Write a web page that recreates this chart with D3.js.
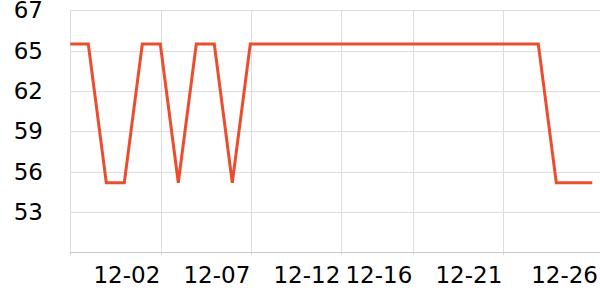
<!DOCTYPE html>
<html>
<head>
<meta charset="utf-8">
<script src="https://cdn.jsdelivr.net/npm/d3@7"></script>
<style>
  body { margin: 0; background: #fff; }
  text { font-family: "DejaVu Sans", sans-serif; fill: #000; }
</style>
</head>
<body>
<script>
// dates (one point per day)
var fechas = ["11-27","11-28","11-29","11-30","12-01","12-02","12-03","12-04","12-05","12-06",
              "12-07","12-08","12-09","12-10","12-11","12-12","12-13","12-14","12-15","12-16",
              "12-17","12-18","12-19","12-20","12-21","12-22","12-23","12-24","12-25","12-26"];
var valores = [65, 65, 55, 55, 65, 65, 55, 65, 65, 55,
               65, 65, 65, 65, 65, 65, 65, 65, 65, 65,
               65, 65, 65, 65, 65, 65, 65, 55, 55, 55];
// ticks on the x axis
var xTicks = ["12-02", "12-07", "12-12", "12-16", "12-21", "12-26"];
// y axis ticks and their labels
var yDominio = [49.98, 67.43];
var yTicks = [52.89, 55.80, 58.70, 61.61, 64.52, 67.43];
var yEtiquetas = ["53", "56", "59", "62", "65", "67"];

var vis = {
    ancho: 600,
    alto: 300,
    izq: 70.3,
    der: 592.3,
    finGrid: 600,
    arriba: 10.3,
    abajo: 252.3,
    color: "#eb4d2e",
    fuente: "23px"
};

var svg = d3.select("body").append("svg")
    .attr("width", vis.ancho)
    .attr("height", vis.alto);

var x = d3.scalePoint().domain(fechas).range([vis.izq, vis.der]);
var y = d3.scaleLinear().domain(yDominio).range([vis.abajo, vis.arriba]);

// horizontal grid
svg.append("g").selectAll("line")
    .data(yTicks)
    .enter().append("line")
    .attr("x1", vis.izq).attr("x2", vis.finGrid)
    .attr("y1", function(d) { return Math.round(y(d)) + 0.5; })
    .attr("y2", function(d) { return Math.round(y(d)) + 0.5; })
    .attr("stroke", "#dcdcdc").attr("stroke-width", 1);

// vertical grid (not the last one)
svg.append("g").selectAll("line")
    .data(xTicks.slice(0, xTicks.length - 1))
    .enter().append("line")
    .attr("x1", function(d) { return Math.round(x(d)) + 1.5; })
    .attr("x2", function(d) { return Math.round(x(d)) + 1.5; })
    .attr("y1", vis.arriba).attr("y2", vis.abajo + 3)
    .attr("stroke", "#dcdcdc").attr("stroke-width", 1);

// left axis line
svg.append("line")
    .attr("x1", Math.round(vis.izq) + 0.5).attr("x2", Math.round(vis.izq) + 0.5)
    .attr("y1", vis.arriba).attr("y2", vis.abajo + 3)
    .attr("stroke", "#dcdcdc");

// bottom axis line
svg.append("line")
    .attr("x1", vis.izq).attr("x2", vis.finGrid)
    .attr("y1", Math.round(vis.abajo) + 0.5).attr("y2", Math.round(vis.abajo) + 0.5)
    .attr("stroke", "#c8c8c8");

// y labels
svg.append("g").selectAll("text")
    .data(yTicks)
    .enter().append("text")
    .attr("x", 43)
    .attr("y", function(d) { return y(d); })
    .attr("dy", "0.35em")
    .attr("text-anchor", "end")
    .style("font-size", vis.fuente)
    .text(function(d, i) { return yEtiquetas[i]; });

// x labels, right aligned on the grid line
svg.append("g").selectAll("text")
    .data(xTicks)
    .enter().append("text")
    .attr("x", function(d, i) {
        return i == xTicks.length - 1 ? vis.ancho - 2 : x(d);
    })
    .attr("y", 275)
    .attr("dy", "0.35em")
    .attr("text-anchor", "end")
    .style("font-size", vis.fuente)
    .text(function(d) { return d; });

// the line
var linea = d3.line()
    .x(function(d, i) { return x(fechas[i]); })
    .y(function(d) { return y(d); });

svg.append("path")
    .datum(valores)
    .attr("d", linea)
    .attr("fill", "none")
    .attr("stroke", vis.color)
    .attr("stroke-width", 3);
</script>
</body>
</html>
